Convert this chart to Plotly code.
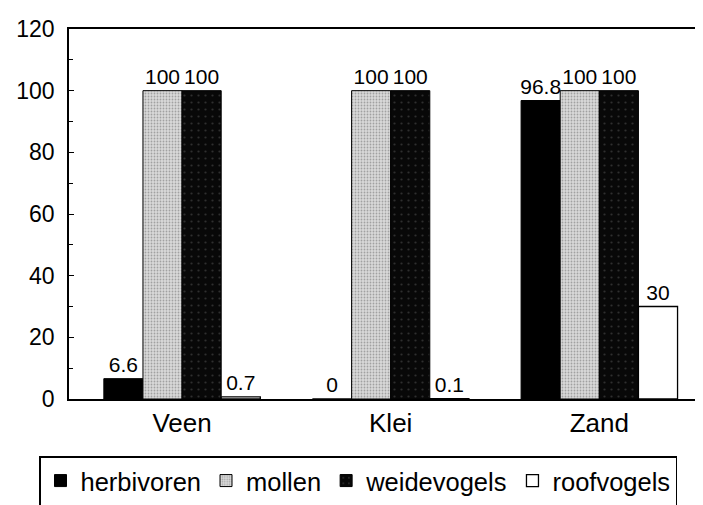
import plotly.graph_objects as go

categories = ["Veen", "Klei", "Zand"]
herbivoren = [6.6, 0, 96.8]
mollen = [100, 100, 100]
weidevogels = [100, 100, 100]
roofvogels = [0.7, 0.1, 30]
y_ticks = [0, 20, 40, 60, 80, 100, 120]

FONT = "Arial, Liberation Sans, Helvetica, sans-serif"

series = [
    ("herbivoren", herbivoren, dict(color="#000000", line=dict(color="black", width=1))),
    ("mollen", mollen, dict(color="#d9d9d9", line=dict(color="black", width=1),
                            pattern=dict(shape=".", fgcolor="#6a6a6a", size=3, solidity=0.3))),
    ("weidevogels", weidevogels, dict(color="#080808", line=dict(color="black", width=1),
                                      pattern=dict(shape=".", fgcolor="#555555", size=7, solidity=0.08))),
    ("roofvogels", roofvogels, dict(color="#ffffff", line=dict(color="black", width=1.3))),
]

fig = go.Figure()
for name, vals, marker in series:
    fig.add_trace(go.Bar(
        name=name, x=categories, y=vals, marker=marker,
        text=[f"{v:g}" for v in vals], textposition="outside",
        textfont=dict(family=FONT, size=21, color="black"),
        constraintext="none", cliponaxis=False,
    ))

# page body has an 8px default margin; offsets below compensate for it
fig.update_layout(
    width=703, height=505,
    margin=dict(l=56, r=8, t=16, b=114),
    paper_bgcolor="white", plot_bgcolor="white",
    barmode="group", bargap=0.25, bargroupgap=0,
    font=dict(family=FONT, color="black"),
    showlegend=True,
    legend=dict(
        orientation="h", xref="container", yref="container",
        x=31 / 703, y=1 - 448 / 505, xanchor="left", yanchor="top",
        bordercolor="black", borderwidth=1.5,
        font=dict(family=FONT, size=25.5, color="black"),
        traceorder="normal",
    ),
)
fig.update_xaxes(
    range=[-0.542, 2.497], showline=True, linecolor="black", linewidth=1.5,
    mirror=True, ticks="", showgrid=False, zeroline=False,
    tickfont=dict(family=FONT, size=26, color="black"),
)
fig.update_yaxes(
    range=[0, 120], tickvals=y_ticks, showline=True, linecolor="black", linewidth=1.5,
    ticks="inside", ticklen=5, tickcolor="black", showgrid=False, zeroline=False,
    minor=dict(dtick=10, tick0=0, ticks="inside", ticklen=4, tickcolor="black", showgrid=False),
    tickfont=dict(family=FONT, size=23, color="black"), ticklabelstandoff=8,
)

fig.write_html("out.html")
